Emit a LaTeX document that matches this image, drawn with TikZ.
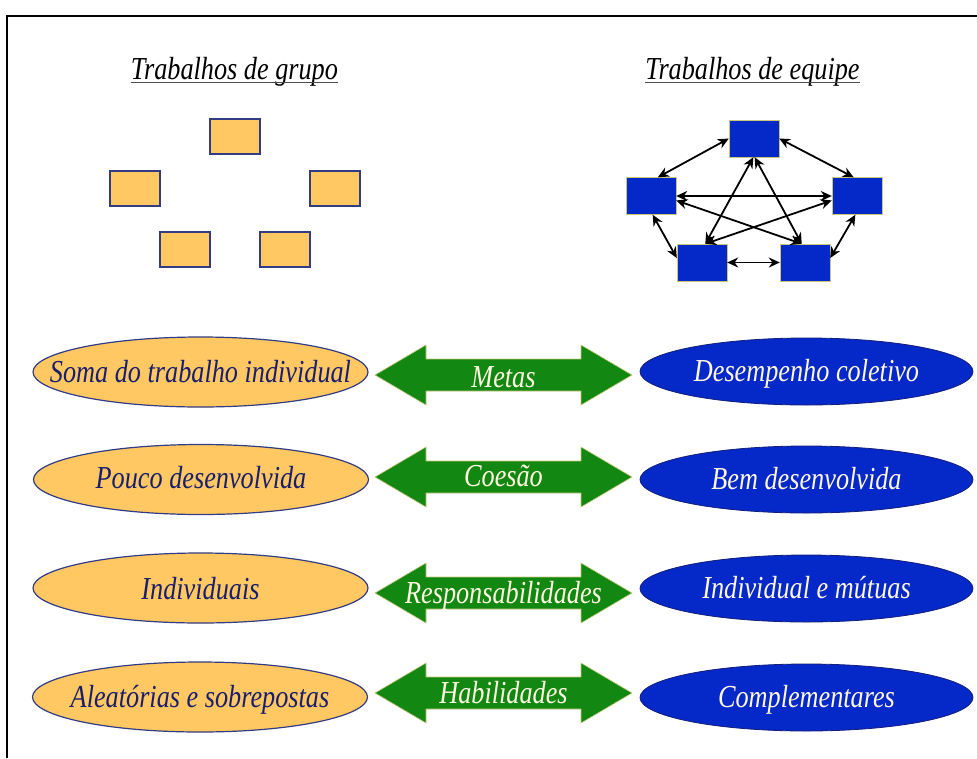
\documentclass[tikz,border=0pt]{standalone}
\usepackage{fontspec}
\setmainfont{Liberation Serif}
\usepackage{graphicx}
\usetikzlibrary{shapes.geometric,arrows.meta}
\definecolor{orangeF}{RGB}{255,200,98}
\definecolor{boxedge}{RGB}{50,60,130}
\definecolor{blueF}{RGB}{5,40,200}
\definecolor{blueedge}{RGB}{20,30,120}
\definecolor{greenF}{RGB}{18,135,18}
\definecolor{greenedge}{RGB}{200,200,120}
\definecolor{navy}{RGB}{25,30,110}
\definecolor{cream}{RGB}{255,248,225}
\newcommand{\sqz}[1]{\scalebox{0.82}[1]{#1}}
\begin{document}
\begin{tikzpicture}[x=1pt,y=-1pt,
  obox/.style={rectangle, draw=boxedge, line width=1.2pt, fill=orangeF, minimum width=50pt, minimum height=35pt, inner sep=0pt},
  bbox/.style={rectangle, draw=greenedge, line width=0.4pt, fill=blueF, minimum width=50pt, minimum height=37pt, inner sep=0pt},
  oell/.style={ellipse, draw=boxedge, line width=1.2pt, fill=orangeF, minimum width=335pt, minimum height=70pt, inner sep=0pt},
  bell/.style={ellipse, draw=blueedge, line width=0.8pt, fill=blueF, minimum width=333pt, minimum height=67pt, inner sep=0pt},
  lbl/.style={font=\fontsize{32}{38}\selectfont\itshape, inner sep=0pt},
  link/.style={{Stealth[length=11pt,width=10pt]}-{Stealth[length=11pt,width=10pt]}, line width=1.8pt, black},
  garrow/.pic={\path[fill=greenF, draw=greenedge, line width=0.6pt]
     (-128.5,0) -- (-77.5,-30) -- (-77.5,-16) -- (77.5,-16) -- (77.5,-30) -- (128.5,0)
     -- (77.5,30) -- (77.5,16) -- (-77.5,16) -- (-77.5,30) -- cycle;}
]
\useasboundingbox (0,0) rectangle (977,758);
\fill[white] (0,0) rectangle (977,758);
% frame
\draw[line width=2pt, black] (7,758) -- (7,16) -- (977,16);

% titles
\node[lbl, anchor=base] (t1) at (234.5,79) {\sqz{Trabalhos de grupo}};
\node[lbl, anchor=base] (t2) at (752.5,79) {\sqz{Trabalhos de equipe}};
\draw[line width=1pt, black!70] ([yshift=-3pt]t1.base west) -- ([yshift=-3pt]t1.base east);
\draw[line width=1pt, black!70] ([yshift=-3pt]t2.base west) -- ([yshift=-3pt]t2.base east);

% group boxes
\node[obox] (ga) at (235,136.5) {};
\node[obox] (gb) at (135,188.5) {};
\node[obox] (gc) at (335,188.5) {};
\node[obox] (gd) at (185,249.5) {};
\node[obox] (ge) at (285,249.5) {};

% team boxes
\node[bbox] (t) at (754,138.5) {};
\node[bbox] (l) at (651,196) {};
\node[bbox] (r) at (857,196) {};
\node[bbox] (bl) at (702,262.5) {};
\node[bbox] (br) at (805,262.5) {};

\draw[link] (t.west) -- (l.70);
\draw[link] (t.east) -- (r.100);
\draw[link] (l.east) -- (r.west);
\draw[link] (l.-10) -- (br.100);
\draw[link] (r.190) -- (bl.80);
\draw[link] (t.-92) -- (bl.80);
\draw[link] (t.-88) -- (br.100);
\draw[link] (l.-85) -- (bl.170);
\draw[link] (r.-95) -- (br.10);
\draw[link] (bl.east) -- (br.west);

% green arrows
\pic at (503.5,375) {garrow};
\pic at (503.5,477) {garrow};
\pic at (503.5,593) {garrow};
\pic at (503.5,693) {garrow};

% ellipses
\node[oell] (g1) at (200.5,372) {};
\node[oell] (g2) at (201,479.5) {};
\node[oell] (g3) at (200.5,588) {};
\node[oell] (g4) at (200,697) {};
\node[bell] (e1) at (806.5,371.5) {};
\node[bell] (e2) at (806.5,479.5) {};
\node[bell] (e3) at (806.5,588.5) {};
\node[bell] (e4) at (806.5,697.5) {};

\node[lbl, navy, anchor=base] (g1t) at ([yshift=-10pt]g1.center) {\sqz{Soma do trabalho individual}};
\node[lbl, navy, anchor=base] (g2t) at ([yshift=-9pt]g2.center) {\sqz{Pouco desenvolvida}};
\node[lbl, navy, anchor=base] (g3t) at ([yshift=-11pt]g3.center) {\sqz{Individuais}};
\node[lbl, navy, anchor=base] (g4t) at ([yshift=-10pt]g4.center) {\sqz{Aleatórias e sobrepostas}};
\node[lbl, cream, anchor=base] (e1t) at ([yshift=-10pt]e1.center) {\sqz{Desempenho coletivo}};
\node[lbl, cream, anchor=base] (e2t) at ([yshift=-10pt]e2.center) {\sqz{Bem desenvolvida}};
\node[lbl, cream, anchor=base] (e3t) at ([yshift=-10pt]e3.center) {\sqz{Individual e mútuas}};
\node[lbl, cream, anchor=base] (e4t) at ([yshift=-10pt]e4.center) {\sqz{Complementares}};

% arrow labels
\node[lbl, cream, anchor=base] (m1) at (503.5,387) {\sqz{Metas}};
\node[lbl, cream, anchor=base] (m2) at (503.5,486) {\sqz{Coesão}};
\node[lbl, cream, anchor=base] (m3) at (503.5,603) {\sqz{Responsabilidades}};
\node[lbl, cream, anchor=base] (m4) at (503.5,703) {\sqz{Habilidades}};
\end{tikzpicture}
\end{document}
